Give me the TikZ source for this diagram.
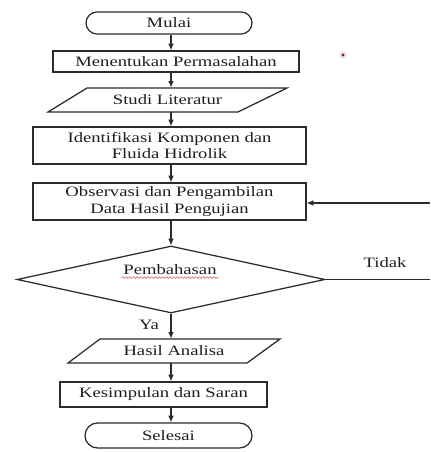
\documentclass[tikz,border=0pt]{standalone}
\usepackage{fontspec}
\setmainfont{Liberation Serif}[FakeStretch=1.3]
\usetikzlibrary{shapes.geometric,arrows.meta,decorations.pathmorphing}
\definecolor{FlowLine}{HTML}{2B2B2B}
\definecolor{FlowText}{HTML}{1E1E1E}
\definecolor{SpellRed}{HTML}{E06A6A}
\definecolor{SpotRed}{HTML}{7A2035}
\tikzset{
  flowfont/.style={font=\fontsize{8.6}{9.9}\selectfont},
  box/.style={draw=FlowLine,line width=0.75pt,rectangle,inner sep=1pt,align=center,text=FlowText,flowfont},
  term/.style={box,rounded corners=6.6pt},
  io/.style={inner sep=1pt,text=FlowText,flowfont},
  arr/.style={draw=FlowLine,line width=0.75pt,-{Latex[length=4pt,width=3.4pt]}},
}
\begin{document}
\begin{tikzpicture}[x=0.6pt,y=-0.6pt]
  \useasboundingbox (0,0) rectangle (430,452);
  \node[term,minimum width=99.6pt,minimum height=13.2pt] (mulai) at (169,23) {Mulai};
  \node[box,minimum width=147.6pt,minimum height=12.6pt] (masalah) at (176,61.5) {Menentukan Permasalahan};
  \draw[FlowLine,line width=0.75pt] (87,88) -- (287,88) -- (238,112) -- (48,112) -- cycle;
  \node[io,minimum height=14.4pt] (studi) at (167.5,100) {Studi Literatur};
  \node[box,minimum width=163.8pt,minimum height=22.2pt] (ident) at (169.5,145.5) {Identifikasi Komponen dan\\Fluida Hidrolik};
  \node[box,minimum width=163.8pt,minimum height=22.2pt] (obs) at (169.5,201.5) {Observasi dan Pengambilan\\Data Hasil Pengujian};
  \node[diamond,draw=FlowLine,line width=0.75pt,minimum width=184.8pt,minimum height=40.2pt,inner sep=0pt] (pb) at (171,279.5) {};
  \node[io] (pbtext) at (170,270) {Pembahasan};
  \draw[SpellRed,line width=0.4pt,decorate,decoration={snake,amplitude=0.5pt,segment length=2.2pt}]
    ([yshift=-1.6pt]pbtext.base west) -- ([yshift=-1.6pt]pbtext.base east);
  \draw[FlowLine,line width=0.75pt] (100,339) -- (280,339) -- (247,363) -- (68,363) -- cycle;
  \node[io,minimum height=14.4pt] (hasil) at (174,351) {Hasil Analisa};
  \node[box,minimum width=124.2pt,minimum height=15pt] (simpul) at (163.5,394.5) {Kesimpulan dan Saran};
  \node[term,minimum width=100.2pt,minimum height=15pt,rounded corners=7.5pt] (selesai) at (168.5,435.5) {Selesai};
  \foreach \a/\b in {mulai/masalah,masalah/studi,studi/ident,ident/obs,obs/pb,pb/hasil,hasil/simpul,simpul/selesai}
    \draw[arr] (\a.south -| pb) -- (\b.north -| pb);
  \node[io] (ya) at (149,325) {Ya};
  \coordinate (tidakend) at (430,279.5);
  \coordinate (balik) at (430,203);
  \draw[FlowLine,line width=0.75pt] (pb.east) -- (tidakend);
  \node[io] (tidak) at (385,263) {Tidak};
  \draw[arr] (balik) -- (balik -| obs.east);
  \fill[SpotRed!12] (343,55) circle (4);
  \fill[SpotRed] (343,55) circle (1.6);
\end{tikzpicture}
\end{document}
